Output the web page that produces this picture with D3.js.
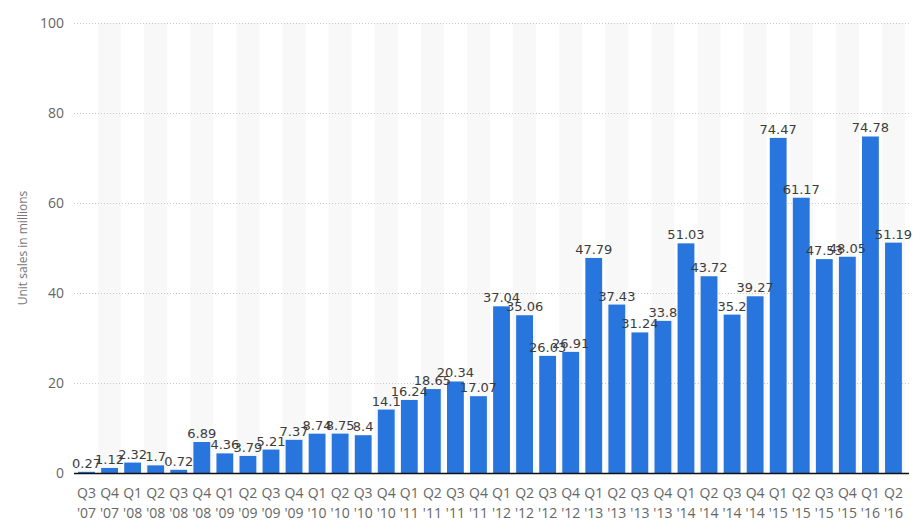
<!DOCTYPE html>
<html><head><meta charset="utf-8">
<script src="https://cdn.jsdelivr.net/npm/d3@7"></script>
<style>body{margin:0;background:#fff}svg{display:block}</style>
</head><body>
<svg id="c" width="920" height="530"></svg>
<script>
const quarters = ["Q3","Q4","Q1","Q2","Q3","Q4","Q1","Q2","Q3","Q4","Q1","Q2","Q3","Q4","Q1","Q2","Q3","Q4","Q1","Q2","Q3","Q4","Q1","Q2","Q3","Q4","Q1","Q2","Q3","Q4","Q1","Q2","Q3","Q4","Q1","Q2"];
const years = ["'07","'07","'08","'08","'08","'08","'09","'09","'09","'09","'10","'10","'10","'10","'11","'11","'11","'11","'12","'12","'12","'12","'13","'13","'13","'13","'14","'14","'14","'14","'15","'15","'15","'15","'16","'16"];
const values = [0.27,1.12,2.32,1.7,0.72,6.89,4.36,3.79,5.21,7.37,8.74,8.75,8.4,14.1,16.24,18.65,20.34,17.07,37.04,35.06,26.03,26.91,47.79,37.43,31.24,33.8,51.03,43.72,35.2,39.27,74.47,61.17,47.53,48.05,74.78,51.19];
const yTicks = [0,20,40,60,80,100];
const yTitle = "Unit sales in millions";

const svg = d3.select("#c");
const W = 920, H = 530;
const m = {l:75, r:15, t:23, b:57};
const idx = values.map((d,i)=>i);
const x = d3.scaleBand().domain(idx).range([m.l, W-m.r]).paddingInner(0.27).paddingOuter(0.135);
const xs = d3.scaleBand().domain(idx).range([m.l, W-m.r]);
const y = d3.scaleLinear().domain([0,100]).range([H-m.b, m.t]);

// stripes
svg.append("g").selectAll("rect").data(idx.filter(i=>i%2===1)).join("rect")
  .attr("x", i=>xs(i)).attr("width", xs.bandwidth())
  .attr("y", y(100)).attr("height", y(0)-y(100)).attr("fill","#f8f8f8");

// grid
svg.append("g").selectAll("line").data(yTicks.filter(t=>t>0)).join("line")
  .attr("x1", 74).attr("x2", W-m.r+4).attr("y1", d=>y(d)+0.5).attr("y2", d=>y(d)+0.5)
  .attr("stroke","#c8c8c8").attr("stroke-width",1).attr("stroke-dasharray","1,2");

// y axis labels
const yAxis = d3.axisLeft(y).tickValues(yTicks).tickSize(0).tickPadding(10);
const ga = svg.append("g").attr("transform",`translate(74,0)`).call(yAxis);
ga.select(".domain").remove();
ga.selectAll("text").attr("font-family","'Open Sans', sans-serif").attr("font-size",14).attr("fill","#666");

// bars
svg.append("g").selectAll("rect").data(values).join("rect")
  .attr("x",(d,i)=>x(i)).attr("width",x.bandwidth())
  .attr("y",d=>y(d)).attr("height",d=>y(0)-y(d)).attr("fill","#2876dd");

// baseline
svg.append("line").attr("x1",74).attr("x2",W-m.r+4).attr("y1",y(0)+0.5).attr("y2",y(0)+0.5)
  .attr("stroke","#111").attr("stroke-width",1.5);

// value labels
svg.append("g").selectAll("text").data(values).join("text")
  .attr("x",(d,i)=>x(i)+x.bandwidth()/2).attr("y",d=>y(d)-4)
  .attr("text-anchor","middle").attr("font-family","'DejaVu Sans', sans-serif").attr("font-size",13)
  .attr("fill","#3c3c3c").text(d=>String(d));

// x labels
const gx = svg.append("g").selectAll("text").data(idx).join("text")
  .attr("text-anchor","middle").attr("font-family","'Open Sans', sans-serif").attr("font-size",14).attr("fill","#666");
gx.append("tspan").attr("x",i=>x(i)+x.bandwidth()/2).attr("y",y(0)+25).text(i=>quarters[i]);
gx.append("tspan").attr("x",i=>x(i)+x.bandwidth()/2).attr("y",y(0)+45).text(i=>years[i]);

// y title
svg.append("text").attr("transform",`translate(27,${(y(0)+y(100))/2}) rotate(-90)`)
  .attr("text-anchor","middle").attr("font-family","'Open Sans', sans-serif").attr("font-size",12).attr("fill","#777").text(yTitle);
</script>
</body></html>
